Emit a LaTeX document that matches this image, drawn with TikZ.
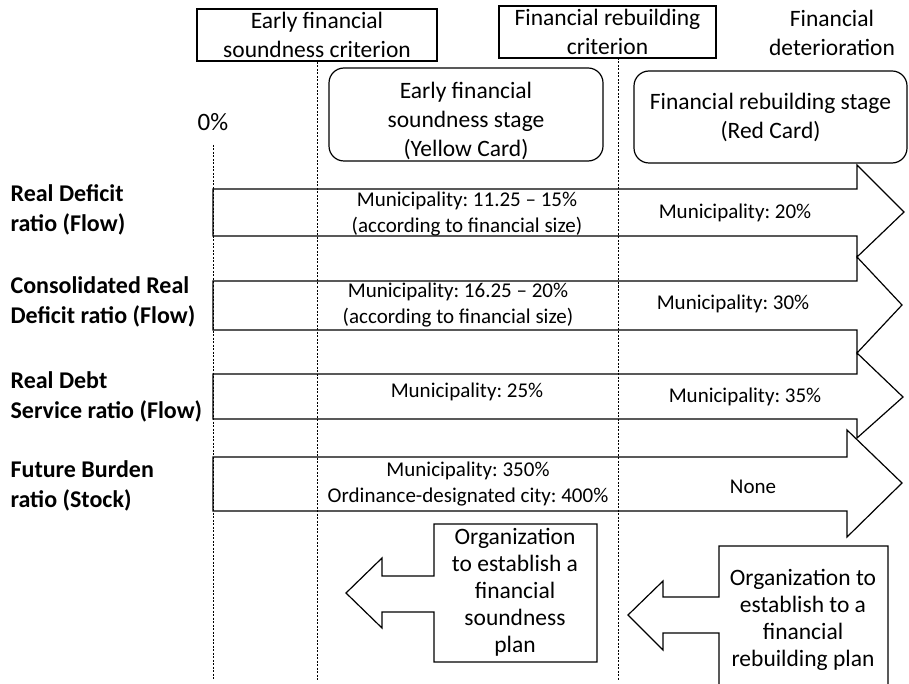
\documentclass[tikz,border=0pt]{standalone}
\usepackage{fontspec}
\setmainfont{Carlito}
\frenchspacing

\begin{document}
\begin{tikzpicture}[x=1pt,y=-1pt,line width=1.2pt,
	bigtext/.style={align=center,inner sep=0pt,font=\fontsize{23.5}{29}\selectfont},
	celltext/.style={align=center,inner sep=0pt,font=\fontsize{21}{26}\selectfont},
	ratiotext/.style={align=left,anchor=west,inner sep=0pt,font=\fontsize{24}{30}\selectfont\bfseries},
	plantext/.style={align=center,inner sep=0pt,font=\fontsize{23.5}{27}\selectfont},
	guide/.style={dash pattern=on 2pt off 1.5pt,line width=0.8pt}]
			\useasboundingbox (0,0) rectangle (909,684);
			% guides
			\draw[guide] (213,145) -- (213,680);
			\draw[guide] (317,62) -- (317,680);
			\draw[guide] (618,58) -- (618,680);
			% criteria
			\node[bigtext,draw,minimum width=240pt,minimum height=52pt] (early) at (317,35) {Early financial\\soundness criterion};
			\node[bigtext,draw,minimum width=217pt,minimum height=52pt] (rebuild) at (607.5,32) {Financial rebuilding\\criterion};
			\node[bigtext] (deterior) at (832,33) {Financial\\deterioration};
			% stages
			\node[draw,rounded corners=15pt,minimum width=274pt,minimum height=93pt] (yellow) at (466,114.5) {};
			\node[bigtext] (yellowtext) at (466,121) {Early financial\\soundness stage\\(Yellow Card)};
			\node[bigtext,draw,rounded corners=15pt,minimum width=273pt,minimum height=92pt] (red) at (770.5,117) {Financial rebuilding stage\\(Red Card)};
			\node[bigtext,font=\fontsize{25}{29}\selectfont] (zero) at (213,122) {0\%};
			% real deficit ratio
			\draw (213,189) -- (857,189) -- (857,165) -- (904,212) -- (857,257) -- (857,236) -- (213,236) -- cycle;
			\node[ratiotext] (deficit) at (10,210) {Real Deficit\\ratio (Flow)};
			\node[celltext] (deficitY) at (467,214) {Municipality: 11.25 -- 15\%\\(according to financial size)};
			\node[celltext] (deficitR) at (735,213) {Municipality: 20\%};
			% consolidated real deficit ratio
			\draw (213,281) -- (857,281) -- (857,257) -- (902,305) -- (857,353) -- (857,330) -- (213,330) -- cycle;
			\node[ratiotext] (consol) at (10,302) {Consolidated Real\\Deficit ratio (Flow)};
			\node[celltext] (consolY) at (458,305) {Municipality: 16.25 -- 20\%\\(according to financial size)};
			\node[celltext] (consolR) at (733,304) {Municipality: 30\%};
			% real debt service ratio
			\draw (213,374) -- (857,374) -- (857,353) -- (903,397) -- (857,438) -- (857,419) -- (213,419) -- cycle;
			\node[ratiotext] (debt) at (10,397) {Real Debt\\Service ratio (Flow)};
			\node[celltext] (debtY) at (467,392) {Municipality: 25\%};
			\node[celltext] (debtR) at (745,397) {Municipality: 35\%};
			% future burden ratio
			\draw (213,457) -- (847,457) -- (847,430) -- (902,483) -- (847,537) -- (847,511) -- (213,511) -- cycle;
			\node[ratiotext] (burden) at (10,486) {Future Burden\\ratio (Stock)};
			\node[celltext] (burdenY) at (468,484.5) {Municipality: 350\%\\Ordinance-designated city: 400\%};
			\node[celltext] (burdenR) at (753,487) {None};
			% plans
			\draw (434,524) -- (597,524) -- (597,662) -- (434,662) -- (434,612) -- (382,612) -- (382,628) -- (346,593) -- (382,558) -- (382,576) -- (434,576) -- cycle;
			\node[plantext] (soundplan) at (515,592) {Organization\\to establish a\\financial\\soundness\\plan};
			\draw (719,684) -- (719,633) -- (663,633) -- (663,650) -- (628,615) -- (663,581) -- (663,597) -- (719,597) -- (719,546) -- (888,546) -- (888,684);
			\node[plantext] (rebuildplan) at (803,619.5) {Organization to\\establish to a\\financial\\rebuilding plan};
		\end{tikzpicture}
\end{document}
